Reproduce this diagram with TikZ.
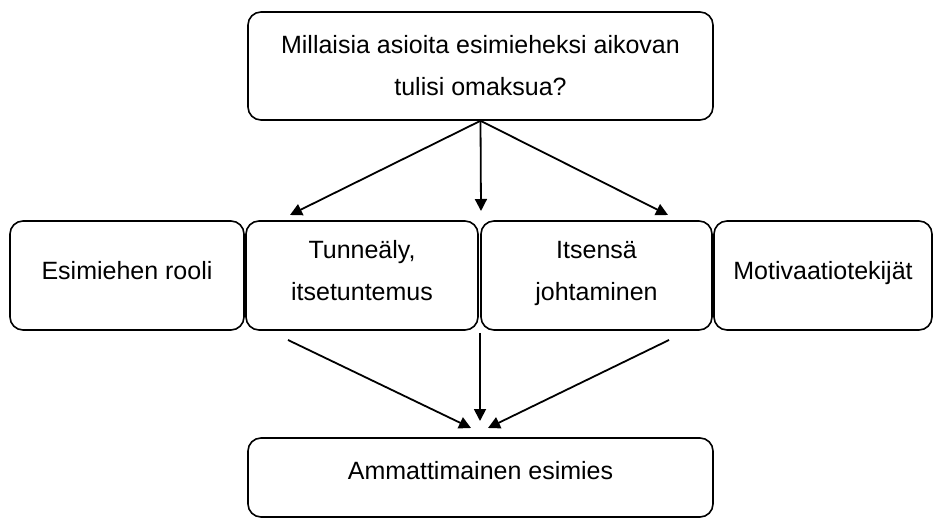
\documentclass[tikz,border=0pt]{standalone}
\usepackage{fontspec}
\setmainfont{Liberation Sans}
\usetikzlibrary{arrows.meta}
\newcommand\mystr{\rule[-11pt]{0pt}{31pt}}
\begin{document}
\begin{tikzpicture}[x=1pt,y=-1pt,
  box/.style={draw=black,line width=1.6pt,rounded corners=13pt,align=center,
    font=\fontsize{25}{42}\selectfont,inner sep=0pt},
  conn/.style={line width=1.8pt,-{Triangle[length=12pt,width=12pt]}}]
\useasboundingbox (0,0) rectangle (934,518);
\node[box,minimum width=465pt,minimum height=108pt] (top) at (480.5,66)
  {Millaisia asioita esimieheksi aikovan\\tulisi omaksua?};
\node[box,minimum width=234pt,minimum height=109pt] (b1) at (127,275.5) {\mystr Esimiehen rooli};
\node[box,minimum width=232pt,minimum height=109pt] (b2) at (362,275.5) {\mystr Tunneäly,\\\mystr itsetuntemus};
\node[box,minimum width=231pt,minimum height=109pt] (b3) at (596.5,275.5) {\mystr Itsensä\\\mystr johtaminen};
\node[box,minimum width=218pt,minimum height=109pt] (b4) at (823,275.5) {\mystr Motivaatiotekijät};
\node[box,minimum width=465pt,minimum height=79pt,text height=12pt,text depth=9pt] (bot) at (480.5,477.5) {Ammattimainen esimies};
\coordinate (t1) at (290,215);
\coordinate (t2) at (481,211);
\coordinate (t3) at (668,215);
\draw[conn] (top.south) -- (t1);
\draw[conn] (top.south) -- (t2);
\draw[conn] (top.south) -- (t3);
\coordinate (s1) at (288,340);
\coordinate (s2) at (480,333);
\coordinate (s3) at (669,340);
\coordinate (e1) at (471,428);
\coordinate (e2) at (480,421);
\coordinate (e3) at (488,428);
\draw[conn] (s1) -- (e1);
\draw[conn] (s2) -- (e2);
\draw[conn] (s3) -- (e3);
\end{tikzpicture}
\end{document}
